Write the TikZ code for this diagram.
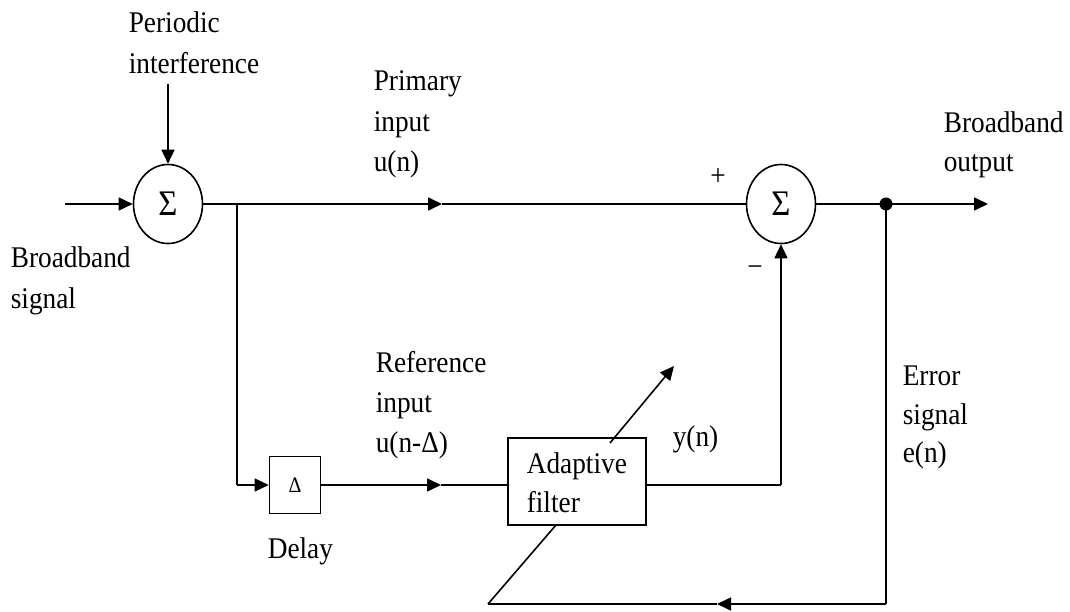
\documentclass[tikz,border=0pt]{standalone}
\usepackage{fontspec}
\setmainfont{Liberation Serif}[FakeStretch=0.91]
\usetikzlibrary{arrows.meta,shapes.geometric}
\begin{document}
\begin{tikzpicture}[x=1pt,y=-1pt,line width=1.6pt,
  lbl/.style={anchor=base west,inner sep=0pt,font=\fontsize{30}{40}\selectfont},
  sign/.style={inner sep=0pt,font=\fontsize{30}{30}\selectfont},
  sumnode/.style={draw,ellipse,minimum width=69pt,minimum height=79pt,inner sep=0pt,font=\fontsize{36}{36}\selectfont},
  blk/.style={draw,fill=white,rectangle,inner sep=0pt},
  arr/.style={-{Triangle[length=14pt,width=13pt]}}]
\useasboundingbox (0,0) rectangle (1070,612);
% blocks
\node[sumnode] (s1) at (168,204) {Σ};
\node[sumnode] (s2) at (781,204) {Σ};
\node[blk,minimum width=51pt,minimum height=57pt,font=\fontsize{22}{22}\selectfont] (delay) at (295,485) {Δ};
% coordinates
\coordinate (in) at (65,204);
\coordinate (pi) at (168,84);
\coordinate (br) at (237,204);
\coordinate (pm) at (442,204);
\coordinate (dot) at (886,204);
\coordinate (out) at (988,204);
\coordinate (bd) at (237,485);
\coordinate (rm) at (441,485);
\coordinate (fo) at (781,485);
\coordinate (eb) at (886,604);
\coordinate (em) at (717,604);
\coordinate (dl) at (488,604);
\coordinate (dm) at (556,525);
\coordinate (du) at (610,443);
\coordinate (dh) at (674,366);
% adaptation arrow (lower part hidden by the filter box)
\draw (dl) -- (dm);
\node[blk,minimum width=138pt,minimum height=87pt] (filt) at (577,481.5) {};
\draw[arr] (du) -- (dh);
% connectors
\draw[arr] (in) -- (s1.west);
\draw[arr] (pi) -- (s1.north);
\draw (s1.east) -- (br);
\draw[arr] (br) -- (pm);
\draw (pm) -- (s2.west);
\draw (s2.east) -- (dot);
\draw[arr] (dot) -- (out);
\fill (dot) circle (6.5pt);
\draw (br) -- (bd);
\draw[arr] (bd) -- (delay.west);
\draw[arr] (delay.east) -- (rm);
\draw (rm) -- (filt.west |- rm);
\draw (filt.east |- fo) -- (fo);
\draw[arr] (fo) -- (s2.south);
\draw (dot) -- (eb);
\draw[arr] (eb) -- (em);
\draw (em) -- (dl);
% labels
\node[lbl] (per1) at (128,33) {Periodic};
\node[lbl] (per2) at (128,74) {interference};
\node[lbl] (bs1) at (10,268) {Broadband};
\node[lbl] (bs2) at (10,308) {signal};
\node[lbl] (pr1) at (373,91) {Primary};
\node[lbl] (pr2) at (373,132) {input};
\node[lbl] (pr3) at (373,172) {u(n)};
\node[sign] (plus) at (718,177) {+};
\node[sign] (minus) at (755,271) {−};
\node[lbl] (bo1) at (943,133) {Broadband};
\node[lbl] (bo2) at (943,172) {output};
\node[lbl] (re1) at (375,372) {Reference};
\node[lbl] (re2) at (375,412) {input};
\node[lbl] (re3) at (375,452) {u(n-Δ)};
\node[lbl] (af1) at (526,473) {Adaptive};
\node[lbl] (af2) at (526,512) {filter};
\node[lbl] (yn) at (672,446) {y(n)};
\node[lbl] (dly) at (267,558) {Delay};
\node[lbl] (er1) at (902,385) {Error};
\node[lbl] (er2) at (902,424) {signal};
\node[lbl] (er3) at (902,462) {e(n)};
\end{tikzpicture}
\end{document}
